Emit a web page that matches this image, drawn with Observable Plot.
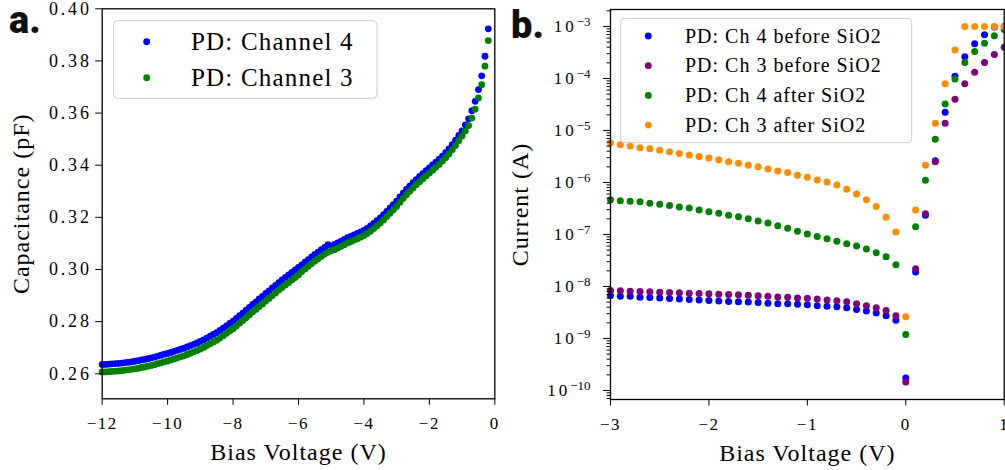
<!DOCTYPE html>
<html><head><meta charset="utf-8">
<script src="https://cdn.jsdelivr.net/npm/d3@7"></script>
<script src="https://cdn.jsdelivr.net/npm/@observablehq/plot@0.6"></script>
<style>
html,body{margin:0;padding:0;background:#fff;}
#wrap{position:relative;width:1005px;height:470px;overflow:hidden;background:#fff;}
#left{position:absolute;left:0;top:0;}
#right{position:absolute;left:505px;top:0;}
</style></head><body>
<div id="wrap"><div id="left"></div><div id="right"></div></div>
<script>
// ---------- Panel a: capacitance vs bias voltage ----------
const cvVoltage = [
 -12,-11.9,-11.8,-11.7,-11.6,-11.5,-11.4,-11.3,-11.2,-11.1,
 -11,-10.9,-10.8,-10.7,-10.6,-10.5,-10.4,-10.3,-10.2,-10.1,
 -10,-9.9,-9.8,-9.7,-9.6,-9.5,-9.4,-9.3,-9.2,-9.1,
 -9,-8.9,-8.8,-8.7,-8.6,-8.5,-8.4,-8.3,-8.2,-8.1,
 -8,-7.9,-7.8,-7.7,-7.6,-7.5,-7.4,-7.3,-7.2,-7.1,
 -7,-6.9,-6.8,-6.7,-6.6,-6.5,-6.4,-6.3,-6.2,-6.1,
 -6,-5.9,-5.8,-5.7,-5.6,-5.5,-5.4,-5.3,-5.2,-5.1,
 -5,-4.9,-4.8,-4.7,-4.6,-4.5,-4.4,-4.3,-4.2,-4.1,
 -4,-3.9,-3.8,-3.7,-3.6,-3.5,-3.4,-3.3,-3.2,-3.1,
 -3,-2.9,-2.8,-2.7,-2.6,-2.5,-2.4,-2.3,-2.2,-2.1,
 -2,-1.9,-1.8,-1.7,-1.6,-1.5,-1.4,-1.3,-1.2,-1.1,
 -1,-0.9,-0.8,-0.7,-0.6,-0.5,-0.4,-0.3,-0.2
];
const capChannel4 = [
 0.2636,0.2636,0.2637,0.2638,0.2639,0.2640,0.2641,0.2643,0.2644,0.2646,
 0.2648,0.2650,0.2653,0.2655,0.2658,0.2661,0.2664,0.2668,0.2671,0.2675,
 0.2678,0.2682,0.2686,0.2690,0.2694,0.2698,0.2703,0.2708,0.2713,0.2718,
 0.2724,0.2730,0.2737,0.2744,0.2751,0.2758,0.2766,0.2775,0.2784,0.2793,
 0.2802,0.2812,0.2823,0.2833,0.2844,0.2855,0.2866,0.2876,0.2887,0.2897,
 0.2908,0.2918,0.2929,0.2939,0.2950,0.2960,0.2970,0.2979,0.2989,0.2998,
 0.3008,0.3018,0.3028,0.3038,0.3048,0.3058,0.3067,0.3076,0.3085,0.3095,
 0.3090,0.3096,0.3102,0.3109,0.3115,0.3122,0.3127,0.3133,0.3138,0.3144,
 0.3150,0.3158,0.3167,0.3177,0.3187,0.3198,0.3210,0.3223,0.3236,0.3249,
 0.3262,0.3278,0.3293,0.3307,0.3320,0.3333,0.3345,0.3357,0.3368,0.3379,
 0.3390,0.3401,0.3412,0.3423,0.3435,0.3448,0.3463,0.3479,0.3496,0.3514,
 0.3532,0.3555,0.3578,0.3609,0.3645,0.3690,0.3743,0.3818,0.3923
];
const capChannel3 = [
 0.2607,0.2607,0.2608,0.2609,0.2610,0.2611,0.2612,0.2614,0.2615,0.2617,
 0.2619,0.2621,0.2624,0.2626,0.2629,0.2632,0.2635,0.2639,0.2642,0.2646,
 0.2649,0.2653,0.2657,0.2661,0.2665,0.2669,0.2674,0.2679,0.2684,0.2689,
 0.2695,0.2701,0.2708,0.2715,0.2722,0.2729,0.2737,0.2746,0.2755,0.2764,
 0.2773,0.2783,0.2794,0.2804,0.2815,0.2826,0.2837,0.2847,0.2858,0.2868,
 0.2879,0.2889,0.2900,0.2910,0.2921,0.2931,0.2941,0.2950,0.2960,0.2969,
 0.2979,0.2992,0.3002,0.3012,0.3022,0.3032,0.3041,0.3050,0.3059,0.3066,
 0.3072,0.3076,0.3082,0.3089,0.3095,0.3102,0.3107,0.3113,0.3118,0.3124,
 0.3130,0.3138,0.3147,0.3157,0.3167,0.3178,0.3190,0.3203,0.3216,0.3229,
 0.3242,0.3258,0.3273,0.3287,0.3300,0.3313,0.3325,0.3337,0.3348,0.3359,
 0.3370,0.3381,0.3392,0.3403,0.3416,0.3429,0.3443,0.3459,0.3476,0.3494,
 0.3512,0.3531,0.3552,0.3581,0.3615,0.3658,0.3709,0.3780,0.3878
];
const cvXTicks = [-12,-10,-8,-6,-4,-2,0];
const cvYTicks = [0.26,0.28,0.30,0.32,0.34,0.36,0.38,0.40];
const cvLegend = ["PD: Channel 4","PD: Channel 3"];

// ---------- Panel b: current vs bias voltage ----------
const ivVoltage = [
 -3,-2.9,-2.8,-2.7,-2.6,-2.5,-2.4,-2.3,-2.2,-2.1,
 -2,-1.9,-1.8,-1.7,-1.6,-1.5,-1.4,-1.3,-1.2,-1.1,
 -1,-0.9,-0.8,-0.7,-0.6,-0.5,-0.4,-0.3,-0.2,-0.1,
 0,0.1,0.2,0.3,0.4,0.5,0.6,0.7,0.8,0.9,1
];
const curCh4Before = [
 6.71e-9,6.52e-9,6.46e-9,6.24e-9,6.17e-9,6.03e-9,5.89e-9,5.75e-9,5.62e-9,5.50e-9,
 5.37e-9,5.25e-9,5.13e-9,5.07e-9,5.01e-9,4.90e-9,4.79e-9,4.68e-9,4.64e-9,4.57e-9,
 4.47e-9,4.27e-9,4.17e-9,4.07e-9,3.89e-9,3.63e-9,3.39e-9,3.09e-9,2.75e-9,2.24e-9,
 1.74e-10,1.91e-8,2.34e-7,2.63e-6,2.24e-5,1.10e-4,2.63e-4,4.68e-4,6.92e-4,9.77e-4,1.0e-3
];
const curCh3Before = [
 8.38e-9,8.26e-9,8.13e-9,8.02e-9,7.94e-9,7.76e-9,7.67e-9,7.59e-9,7.41e-9,7.33e-9,
 7.24e-9,7.08e-9,7.00e-9,6.92e-9,6.76e-9,6.61e-9,6.46e-9,6.31e-9,6.24e-9,6.03e-9,
 5.96e-9,5.75e-9,5.50e-9,5.31e-9,5.07e-9,4.68e-9,4.27e-9,3.89e-9,3.47e-9,2.75e-9,
 1.45e-10,2.19e-8,2.51e-7,2.51e-6,1.38e-5,3.98e-5,7.94e-5,1.32e-4,2.04e-4,2.88e-4,3.98e-4
];
const curCh4After = [
 4.68e-7,4.47e-7,4.37e-7,4.27e-7,3.98e-7,3.80e-7,3.63e-7,3.39e-7,3.24e-7,2.95e-7,
 2.75e-7,2.57e-7,2.34e-7,2.19e-7,2.00e-7,1.82e-7,1.66e-7,1.48e-7,1.32e-7,1.15e-7,
 1.02e-7,9.12e-8,8.32e-8,7.41e-8,6.61e-8,6.03e-8,5.25e-8,4.47e-8,3.72e-8,2.63e-8,
 1.20e-9,1.41e-7,1.10e-6,6.76e-6,3.24e-5,9.77e-5,2.04e-4,3.31e-4,4.79e-4,6.61e-4,8.71e-4
];
const curCh3After = [
 5.75e-6,5.31e-6,5.01e-6,4.68e-6,4.47e-6,4.17e-6,3.89e-6,3.63e-6,3.39e-6,3.16e-6,
 2.95e-6,2.75e-6,2.51e-6,2.34e-6,2.14e-6,2.00e-6,1.82e-6,1.66e-6,1.55e-6,1.38e-6,
 1.26e-6,1.12e-6,1.02e-6,8.91e-7,7.41e-7,6.03e-7,4.68e-7,3.47e-7,2.14e-7,1.12e-7,
 2.63e-9,2.95e-7,2.14e-6,1.38e-5,7.94e-5,3.55e-4,1.0e-3,1.0e-3,1.0e-3,1.0e-3,1.0e-3
];
const ivXTicks = [-3,-2,-1,0,1];
const ivYExponents = [-10,-9,-8,-7,-6,-5,-4,-3];
const ivLegend = ["PD: Ch 4 before SiO2","PD: Ch 3 before SiO2","PD: Ch 4 after SiO2","PD: Ch 3 after SiO2"];

// ---------- styling ----------
const serif = "'Liberation Serif','Times New Roman',serif";
const colBlue = "#0000ff", colGreen = "#008000", colPurple = "#800080", colOrange = "#ff8c00";
const minusFmt = d => (d < 0 ? "\u2212" + Math.abs(d) : String(d));
const supMap = {"-":"\u207B","0":"\u2070","1":"\u00B9","2":"\u00B2","3":"\u00B3","4":"\u2074","5":"\u2075","6":"\u2076","7":"\u2077","8":"\u2078","9":"\u2079"};
const supInv = Object.fromEntries(Object.entries(supMap).map(([k, v]) => [v, k]));
const powFmt = d => "10" + String(Math.round(Math.log10(d))).split("").map(c => supMap[c]).join("");

// ---------- panel a ----------
const cvRows = cvVoltage.map((v, i) => ({v, c4: capChannel4[i], c3: capChannel3[i]}));
const left = Plot.plot({
  width: 505, height: 470,
  marginLeft: 101.7, marginRight: 10.7, marginTop: 8.3, marginBottom: 71.7,
  style: {fontFamily: serif, fontSize: "17px", background: "transparent", color: "black", overflow: "visible"},
  x: {domain: [-12, 0]},
  y: {domain: [0.2504, 0.40]},
  marks: [
    Plot.dot(cvRows, {x: "v", y: "c4", r: 3.4, fill: colBlue, stroke: null}),
    Plot.dot(cvRows, {x: "v", y: "c3", r: 3.4, fill: colGreen, stroke: null}),
    Plot.frame({stroke: "black", strokeWidth: 1.3}),
    Plot.axisX({ticks: cvXTicks, tickFormat: minusFmt, tickSize: 6.5, tickPadding: 12, label: null, fontSize: 17}),
    Plot.axisY({ticks: cvYTicks, tickFormat: d => d.toFixed(2), tickSize: 6.5, tickPadding: 4, label: null, fontSize: 18}),
    Plot.text(["Bias Voltage (V)"], {frameAnchor: "bottom", dy: 61, lineAnchor: "bottom", textAnchor: "middle", fontSize: 24}),
    Plot.text(["Capacitance (pF)"], {frameAnchor: "left", dx: -81, rotate: -90, textAnchor: "middle", lineAnchor: "middle", fontSize: 24})
  ]
});
document.getElementById("left").appendChild(left);

// ---------- panel b ----------
const ivRows = ivVoltage.map((v, i) => ({v, b4: curCh4Before[i], b3: curCh3Before[i], a4: curCh4After[i], a3: curCh3After[i]}));
const minorTicks = [];
for (let e = -11; e <= -3; e++) for (let k = 2; k <= 9; k++) {
  const t = k * Math.pow(10, e);
  if (t > Math.pow(10, -10.173) && t < Math.pow(10, -2.673)) minorTicks.push(t);
}
const majorTicks = ivYExponents.map(e => Math.pow(10, e));
const right = Plot.plot({
  width: 500, height: 470,
  marginLeft: 105, marginRight: 1.3, marginTop: 9, marginBottom: 71,
  style: {fontFamily: serif, fontSize: "17px", background: "transparent", color: "black", overflow: "visible"},
  x: {domain: [-3, 1]},
  y: {type: "log", domain: [Math.pow(10, -10.173), Math.pow(10, -2.673)]},
  marks: [
    Plot.dot(ivRows, {x: "v", y: "b4", r: 3.5, fill: colBlue, stroke: null}),
    Plot.dot(ivRows, {x: "v", y: "b3", r: 3.5, fill: colPurple, stroke: null}),
    Plot.dot(ivRows, {x: "v", y: "a4", r: 3.5, fill: colGreen, stroke: null}),
    Plot.dot(ivRows, {x: "v", y: "a3", r: 3.5, fill: colOrange, stroke: null}),
    Plot.frame({stroke: "black", strokeWidth: 1.3}),
    Plot.axisX({ticks: ivXTicks, tickFormat: minusFmt, tickSize: 6.5, tickPadding: 12, label: null, fontSize: 17}),
    Plot.axisY({ticks: minorTicks, tickFormat: () => "", tickSize: 3.5, label: null}),
    Plot.axisY({ticks: majorTicks, tickFormat: powFmt, tickSize: 7, tickPadding: 13, label: null, fontSize: 17}),
    Plot.text(["Bias Voltage (V)"], {frameAnchor: "bottom", dy: 61, lineAnchor: "bottom", textAnchor: "middle", fontSize: 24}),
    Plot.text(["Current (A)"], {frameAnchor: "left", dx: -90, rotate: -90, textAnchor: "middle", lineAnchor: "middle", fontSize: 24})
  ]
});
document.getElementById("right").appendChild(right);

// ---------- legends & panel tags ----------
function drawLegend(svg, box, labels, colors, o) {
  const g = d3.select(svg).append("g").attr("text-anchor", "start");
  g.append("rect").attr("x", box[0]).attr("y", box[1]).attr("width", box[2]).attr("height", box[3])
    .attr("rx", 4).attr("fill", "white").attr("fill-opacity", 0.8)
    .attr("stroke", "#cccccc").attr("stroke-width", 1);
  labels.forEach((lab, i) => {
    const cy = o.y0 + i * o.dy;
    g.append("circle").attr("cx", o.mx).attr("cy", cy).attr("r", 3.4).attr("fill", colors[i]);
    g.append("text").attr("x", o.tx).attr("y", cy + o.base).attr("font-size", o.fs)
      .attr("text-anchor", "start")
      .attr("font-family", serif).attr("letter-spacing", o.ls).attr("fill", "black").text(lab);
  });
}
drawLegend(left, [113.5, 20.7, 263.5, 77.6], cvLegend, [colBlue, colGreen],
  {y0: 41.7, dy: 36, mx: 146.7, tx: 191, base: 8.3, fs: 25, ls: "1.2px"});
drawLegend(right, [115.7, 18.3, 291, 124.4], ivLegend, [colBlue, colPurple, colGreen, colOrange],
  {y0: 36, dy: 29.7, mx: 143.3, tx: 180, base: 6.5, fs: 20, ls: "1px"});

function tag(svg, x, y, s) {
  d3.select(svg).append("text").attr("x", x).attr("y", y).attr("text-anchor", "start")
    .attr("font-family", "Roboto, 'DejaVu Sans', sans-serif")
    .attr("font-weight", 900).attr("font-size", 38).attr("fill", "#111").text(s);
}
tag(left, 9, 33, "a.");
tag(right, 6, 38, "b.");

// CM-like spacing for serif tick labels
d3.selectAll("#left g[aria-label='x-axis tick label'] text, #right g[aria-label='x-axis tick label'] text")
  .attr("letter-spacing", "1.5px");
d3.selectAll("#left g[aria-label='y-axis tick label'] text").attr("letter-spacing", "2.8px");
d3.selectAll("g[aria-label='text'] text").attr("letter-spacing", "1px");
// power-of-ten labels: base + raised exponent as tspans
d3.selectAll("#right g[aria-label='y-axis tick label'] text").each(function () {
  const s = this.textContent;
  if (!s || s.length < 3) return;
  const ex = s.slice(2).split("").map(c => supInv[c] ?? c).join("").replace("-", "\u2212");
  const t = d3.select(this);
  t.text(null);
  t.append("tspan").attr("letter-spacing", "3px").text("10");
  t.append("tspan").attr("dy", "-0.42em").attr("font-size", "13px").text(ex);
});
</script>
</body></html>
